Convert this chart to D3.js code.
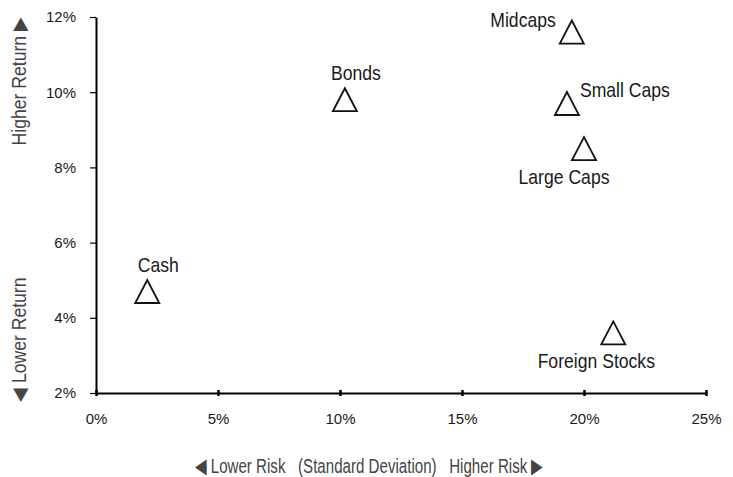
<!DOCTYPE html>
<html>
<head>
<meta charset="utf-8">
<script src="https://cdn.jsdelivr.net/npm/d3@7"></script>
<style>
  html, body { margin: 0; padding: 0; background: #fff; }
  svg { display: block; }
  text { font-family: "Liberation Sans Narrow", "Liberation Sans", Arial, sans-serif; }
</style>
</head>
<body>
<svg id="chart" width="733" height="477"></svg>
<script>
// ---- data ----
const assets = ["Cash", "Bonds", "Midcaps", "Small Caps", "Large Caps", "Foreign Stocks"];
const risk   = [2.1, 10.2, 19.5, 19.3, 20.0, 21.2];   // standard deviation, %
const ret    = [4.7, 9.8, 11.6, 9.7, 8.5, 3.6];       // return, %
const xTicks = [0, 5, 10, 15, 20, 25];
const yTicks = [2, 4, 6, 8, 10, 12];

// ---- layout ----
const svg = d3.select("#chart");
const x = d3.scaleLinear().domain([0, 25]).range([96, 706]);
const y = d3.scaleLinear().domain([2, 12]).range([393, 17]);
const condense = 0.88;

// label placement (anchor, dx, dy) per asset
const labelPos = {
  "Cash":           ["middle", 11, -19],
  "Bonds":          ["middle", 11, -20],
  "Midcaps":        ["end", -16, -5],
  "Small Caps":     ["start", 13, -6],
  "Large Caps":     ["middle", -20, 35],
  "Foreign Stocks": ["middle", -17, 35]
};

// x axis
const xAxis = svg.append("g")
  .attr("transform", `translate(0,${y(2)})`)
  .call(d3.axisBottom(x).tickValues(xTicks).tickFormat(d => d + "%").tickSize(3).tickSizeOuter(0).tickPadding(17));
xAxis.select(".domain").attr("stroke", "#000").attr("stroke-width", 2);
xAxis.selectAll(".tick line").attr("y1", -3).attr("y2", 3).attr("stroke", "#000").attr("stroke-width", 2.5);
xAxis.selectAll(".tick text").attr("font-size", 15).attr("fill", "#1a1a1a")
  .style("font-family", '"Liberation Sans Narrow", "Liberation Sans", sans-serif');

// y axis
const yAxis = svg.append("g")
  .attr("transform", `translate(${x(0)},0)`)
  .call(d3.axisLeft(y).tickValues(yTicks).tickFormat(d => d + "%").tickSize(6).tickSizeOuter(0).tickPadding(14));
yAxis.select(".domain").attr("stroke", "#000").attr("stroke-width", 2);
yAxis.selectAll(".tick line").attr("stroke", "#000").attr("stroke-width", 1.2);
yAxis.selectAll(".tick text").attr("font-size", 15).attr("fill", "#1a1a1a")
  .style("font-family", '"Liberation Sans Narrow", "Liberation Sans", sans-serif');

// markers
const tri = "M0,-11.5L12,11.5L-12,11.5Z";
const pts = assets.map((a, i) => ({ name: a, rx: risk[i], ry: ret[i] }));
svg.append("g").selectAll("path").data(pts).join("path")
  .attr("d", tri)
  .attr("transform", d => `translate(${x(d.rx)},${y(d.ry)})`)
  .attr("fill", "#fff").attr("stroke", "#111").attr("stroke-width", 1.8)
  .attr("stroke-linejoin", "miter");

svg.append("g").selectAll("text").data(pts).join("text")
  .attr("transform", d => `translate(${x(d.rx) + labelPos[d.name][1]},${y(d.ry) + labelPos[d.name][2]}) scale(${condense},1)`)
  .attr("text-anchor", d => labelPos[d.name][0])
  .attr("font-size", 20).attr("fill", "#1a1a1a")
  .text(d => d.name);

// axis titles
svg.append("text")
  .attr("transform", `translate(26,17) rotate(-90) scale(${condense},1)`)
  .attr("text-anchor", "end").attr("font-size", 20).attr("fill", "#444")
  .text("Higher Return \u25B6");
svg.append("text")
  .attr("transform", `translate(26,402) rotate(-90) scale(${condense},1)`)
  .attr("text-anchor", "start").attr("font-size", 20).attr("fill", "#444")
  .text("\u25C0 Lower Return");
svg.append("text")
  .attr("transform", "translate(369,473) scale(0.72,1)")
  .attr("text-anchor", "middle").attr("font-size", 21).attr("fill", "#444")
  .style("white-space", "pre")
  .text("\u25C0 Lower Risk   (Standard Deviation)   Higher Risk \u25B6");
</script>
</body>
</html>
